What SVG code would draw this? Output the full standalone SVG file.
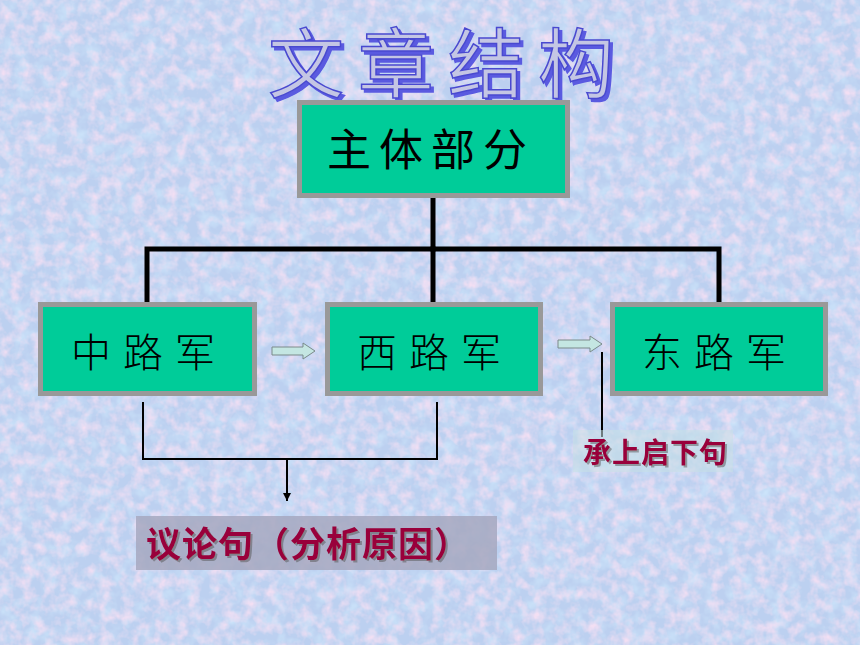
<svg xmlns="http://www.w3.org/2000/svg" width="860" height="645" viewBox="0 0 860 645">
<defs>
<style>
.box{fill:#00CC99;stroke:#999999;stroke-width:5}
.bt{font-family:"Noto Sans CJK SC","Noto Sans CJK JP",sans-serif;fill:#000}
.thick{stroke:#000;stroke-width:5;fill:none;stroke-linecap:square}
.thin{stroke:#000;stroke-width:2;fill:none}
.blk{fill:#c4e6e2;stroke:#7a8a8a;stroke-width:1}
.red{font-family:"Noto Sans CJK SC","Noto Sans CJK JP",sans-serif;font-weight:bold;fill:#99003a}
.ttl{font-family:"Noto Sans CJK SC","Noto Sans CJK JP",sans-serif;font-size:76px;letter-spacing:14px}
</style>
<filter id="pink" x="0" y="0" width="100%" height="100%">
<feTurbulence type="fractalNoise" baseFrequency="0.09" numOctaves="3" seed="3"/>
<feColorMatrix type="matrix" values="0 0 0 0 0.9  0 0 0 0 0.74  0 0 0 0 0.9  2 0 0 0 -0.8"/>
</filter>
<filter id="blue" x="0" y="0" width="100%" height="100%">
<feTurbulence type="fractalNoise" baseFrequency="0.07" numOctaves="3" seed="11"/>
<feColorMatrix type="matrix" values="0 0 0 0 0.62  0 0 0 0 0.8  0 0 0 0 0.97  0 1.7 0 0 -0.72"/>
</filter>
<filter id="tshadow" x="-5%" y="-10%" width="115%" height="130%">
<feFlood flood-color="#5a5ae0"/>
<feComposite operator="in" in2="SourceAlpha"/>
<feOffset dx="3" dy="3" result="sh"/>
<feMerge><feMergeNode in="sh"/><feMergeNode in="SourceGraphic"/></feMerge>
</filter>
<filter id="rshadow" x="-5%" y="-10%" width="115%" height="130%">
<feFlood flood-color="#555555" flood-opacity="0.5"/>
<feComposite operator="in" in2="SourceAlpha"/>
<feOffset dx="1.5" dy="1.5" result="sh"/>
<feMerge><feMergeNode in="sh"/><feMergeNode in="SourceGraphic"/></feMerge>
</filter>
<marker id="ah" markerWidth="8" markerHeight="8" refX="8" refY="4" orient="auto" markerUnits="userSpaceOnUse" viewBox="0 0 8 8">
<path d="M0,0 L8,4 L0,8 Z" fill="#000"/>
</marker>
</defs>
<rect x="0" y="0" width="860" height="645" fill="#bcd0f0"/>
<rect x="0" y="0" width="860" height="645" filter="url(#blue)"/>
<rect x="0" y="0" width="860" height="645" filter="url(#pink)"/>

<g id="title">
<text class="ttl" x="268" y="92" fill="#c4c6e4" stroke="#4a4ad0" stroke-width="1.5" filter="url(#tshadow)">文章结构</text>
</g>

<g id="connectors">
<path class="thick" d="M433,198 V249"/>
<path class="thick" d="M147,302 V249 H719 V302"/>
<path class="thick" d="M433,249 V302"/>
<path class="thin" d="M143,402 V459 H437 V402"/>
<path class="thin" d="M287,459 V501" marker-end="url(#ah)"/>
<path class="thin" d="M602,352 V437" stroke-width="2.5"/>
<path class="blk" d="M272,347 H303 V343 L315,351 L303,359 V355 H272 Z"/>
<path class="blk" d="M558,340 H590 V336 L602,344 L590,352 V348 H558 Z"/>
</g>

<g id="node-main">
<rect class="box" x="299.5" y="102.5" width="268" height="93"/>
<text class="bt" x="327" y="166" font-size="44" letter-spacing="8">主体部分</text>
</g>
<g id="node-zhong">
<rect class="box" x="40.5" y="304.5" width="214" height="89"/>
<text class="bt" x="71" y="367" font-size="40" letter-spacing="12" font-weight="300">中路军</text>
</g>
<g id="node-xi">
<rect class="box" x="327.5" y="304.5" width="213" height="89"/>
<text class="bt" x="357" y="367" font-size="40" letter-spacing="12" font-weight="300">西路军</text>
</g>
<g id="node-dong">
<rect class="box" x="612.5" y="304.5" width="213" height="89"/>
<text class="bt" x="642" y="367" font-size="40" letter-spacing="12" font-weight="300">东路军</text>
</g>

<g id="label-yilun">
<rect x="136" y="516" width="361" height="54" fill="#a6a8bf" opacity="0.85"/>
<text class="red" x="146" y="557" font-size="35" letter-spacing="1" filter="url(#rshadow)">议论句（分析原因）</text>
</g>
<g id="label-cheng">
<rect x="573" y="430" width="160" height="42" fill="#c6e0e6" opacity="0.55"/>
<text class="red" x="583" y="463" font-size="28" letter-spacing="1" filter="url(#rshadow)">承上启下句</text>
</g>
</svg>
